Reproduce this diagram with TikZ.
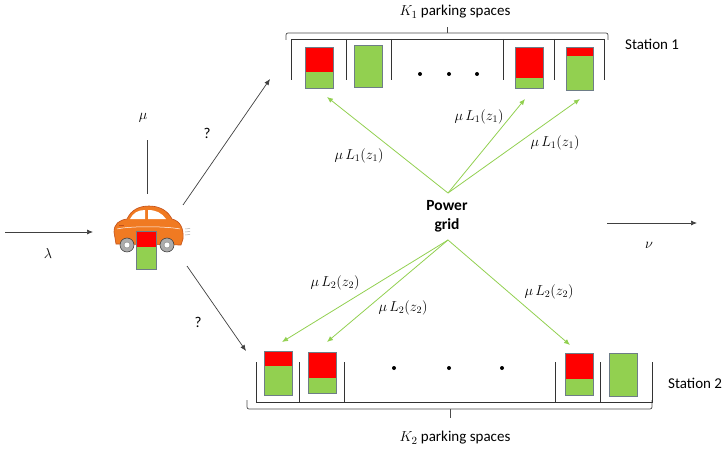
\documentclass[tikz,border=0pt]{standalone}
\usepackage{fontspec}
\setmainfont{Carlito}
\usetikzlibrary{arrows.meta}
\definecolor{battgreen}{HTML}{92D050}
\definecolor{battred}{HTML}{FF0000}
\definecolor{battedge}{RGB}{110,125,135}
\definecolor{carbody}{HTML}{F07A22}
\definecolor{caredge}{HTML}{C2501A}
\definecolor{flowgreen}{HTML}{92D050}
\tikzset{
  lbl/.style={font=\fontsize{15}{17}\selectfont, inner sep=1pt},
  mlbl/.style={font=\fontsize{14.5}{17}\selectfont, inner sep=1pt},
  flow/.style={draw=black!75, line width=0.7pt, -{Latex[length=6pt,width=5pt]}},
  supply/.style={draw=flowgreen, line width=0.8pt, -{Latex[length=6pt,width=5pt]}},
  slotline/.style={draw=black!80, line width=0.7pt},
  bracket/.style={draw=black!70, line width=0.7pt, rounded corners=2pt},
  dot/.style={circle, fill=black, inner sep=0pt, minimum size=4pt},
}
% battery: #1 = name, #2 = left, #3 = top, #4 = right, #5 = bottom, #6 = red/green border
\newcommand{\battery}[6]{%
  \fill[battgreen] (#2,#3) rectangle (#4,#5);
  \fill[battred] (#2,#3) rectangle (#4,#6);
  \draw[battedge, line width=0.6pt] (#2,#3) rectangle (#4,#5);
  \coordinate (#1) at ({(#2+#4)/2},{(#3+#5)/2});
}
\begin{document}
\begin{tikzpicture}[x=1pt,y=-1pt]
\useasboundingbox (0,0) rectangle (726,452);

% ---------- Station 1 ----------
\node[lbl] (k1) at (455,12) {$K_1$ parking spaces};
\draw[bracket] (286,40) -- (286,33) -- (608,33) -- (608,40);
\draw[bracket] (447,33) -- (447,27);
\draw[slotline] (291,80) -- (291,39) -- (604,39) -- (604,80);
\foreach \x in {346,391,503,554} \draw[slotline] (\x,39) -- (\x,80);
\battery{s1a}{305}{47}{333}{88}{72}
\battery{s1b}{354}{45}{382}{87}{45}
\battery{s1c}{515}{47}{543}{88}{78}
\battery{s1d}{566}{47}{593}{90}{56}
\node[dot] (s1dot1) at (420,74) {};
\node[dot] (s1dot2) at (449,74) {};
\node[dot] (s1dot3) at (477,74) {};
\node[lbl, anchor=west] (st1) at (624,44) {Station 1};

% ---------- Station 2 ----------
\node[lbl] (k2) at (455,438) {$K_2$ parking spaces};
\draw[bracket] (247,400) -- (247,409) -- (652,409) -- (652,400);
\draw[bracket] (450,409) -- (450,418);
\draw[slotline] (256,362) -- (256,402) -- (652,402) -- (652,362);
\foreach \x in {299,344,555,600} \draw[slotline] (\x,362) -- (\x,402);
\battery{s2a}{264}{351}{292}{395}{366}
\battery{s2b}{308}{352}{336}{393}{378}
\battery{s2c}{565}{353}{593}{395}{379}
\battery{s2d}{609}{353}{637}{396}{353}
\node[dot] (s2dot1) at (394,368) {};
\node[dot] (s2dot2) at (449,368) {};
\node[dot] (s2dot3) at (502,368) {};
\node[lbl, anchor=west] (st2) at (667,383) {Station 2};

% ---------- Arriving car ----------
\begin{scope}
  % body
  \filldraw[fill=carbody, draw=caredge, line width=0.6pt]
    (116,244) -- (114,232) .. controls (114,224) and (119,220) .. (127,219)
    .. controls (131,210) and (139,206) .. (149,206)
    .. controls (160,206) and (168,211) .. (172,219)
    .. controls (180,221) and (184,228) .. (183,239) -- (181,245) -- cycle;
  % windows
  \fill[white] (130,219) .. controls (133,213) and (138,210) .. (145,210) -- (145,219) -- cycle;
  \fill[white] (148,210) .. controls (156,210) and (162,213) .. (166,219) -- (148,219) -- cycle;
  % trim
  \draw[white, line width=0.5pt] (117,229) .. controls (130,226) and (165,226) .. (180,229);
  \draw[caredge, line width=0.5pt] (119,225) -- (124,225);
  % wheels
  \foreach \wx in {127,167} {
    \filldraw[fill=gray!65, draw=gray!40!black, line width=0.5pt] (\wx,245) circle (7pt);
    \filldraw[fill=white, draw=gray] (\wx,245) circle (3pt);
  }
  % exhaust puffs
  \foreach \ey in {229,232,235} \draw[gray!70, line width=0.5pt] (185,\ey) -- (190,\ey-0.5);
\end{scope}
\battery{carbatt}{136}{231}{156}{269}{247}
\coordinate (carNE) at (183,205);
\coordinate (carSE) at (187,266);
\coordinate (carN) at (147,194);

% arrivals and departures
\coordinate (inStart) at (5,232);
\coordinate (inEnd) at (93,232);
\draw[flow] (inStart) -- (inEnd);
\node[mlbl] (lam) at (48,253) {$\lambda$};

\coordinate (muTop) at (147,140);
\draw[slotline, draw=black!75] (muTop) -- (carN);
\node[mlbl] (mu) at (143,118) {$\mu$};

\coordinate (toS1) at (270,79);
\coordinate (toS2) at (246,351);
\draw[flow] (carNE) -- (toS1);
\draw[flow] (carSE) -- (toS2);
\node[lbl] (q1) at (207,133) {?};
\node[lbl] (q2) at (198,322) {?};

\coordinate (outStart) at (607,223);
\coordinate (outEnd) at (697,223);
\draw[flow] (outStart) -- (outEnd);
\node[mlbl] (nu) at (649,245) {$\nu$};

% ---------- Power grid ----------
\node[font=\fontsize{15.5}{19}\selectfont\bfseries, align=center, inner sep=1pt] (grid) at (447,216) {Power\\grid};
\coordinate (gridTop) at (448,193);
\coordinate (gridBot) at (448,240);

\coordinate (e1a) at (327,97);
\coordinate (e1c) at (525,99);
\coordinate (e1d) at (580,99);
\draw[supply] (gridTop) -- (e1a);
\draw[supply] (gridTop) -- (e1c);
\draw[supply] (gridTop) -- (e1d);
\node[mlbl] (L1a) at (359,156) {$\mu\,L_1(z_1)$};
\node[mlbl] (L1b) at (479,117) {$\mu\,L_1(z_1)$};
\node[mlbl] (L1c) at (555,143) {$\mu\,L_1(z_1)$};

\coordinate (e2a) at (282,342);
\coordinate (e2b) at (327,342);
\coordinate (e2c) at (570,345);
\draw[supply] (gridBot) -- (e2a);
\draw[supply] (gridBot) -- (e2b);
\draw[supply] (gridBot) -- (e2c);
\node[mlbl] (L2a) at (335,283) {$\mu\,L_2(z_2)$};
\node[mlbl] (L2b) at (403,308) {$\mu\,L_2(z_2)$};
\node[mlbl] (L2c) at (549,292) {$\mu\,L_2(z_2)$};
\end{tikzpicture}
\end{document}
